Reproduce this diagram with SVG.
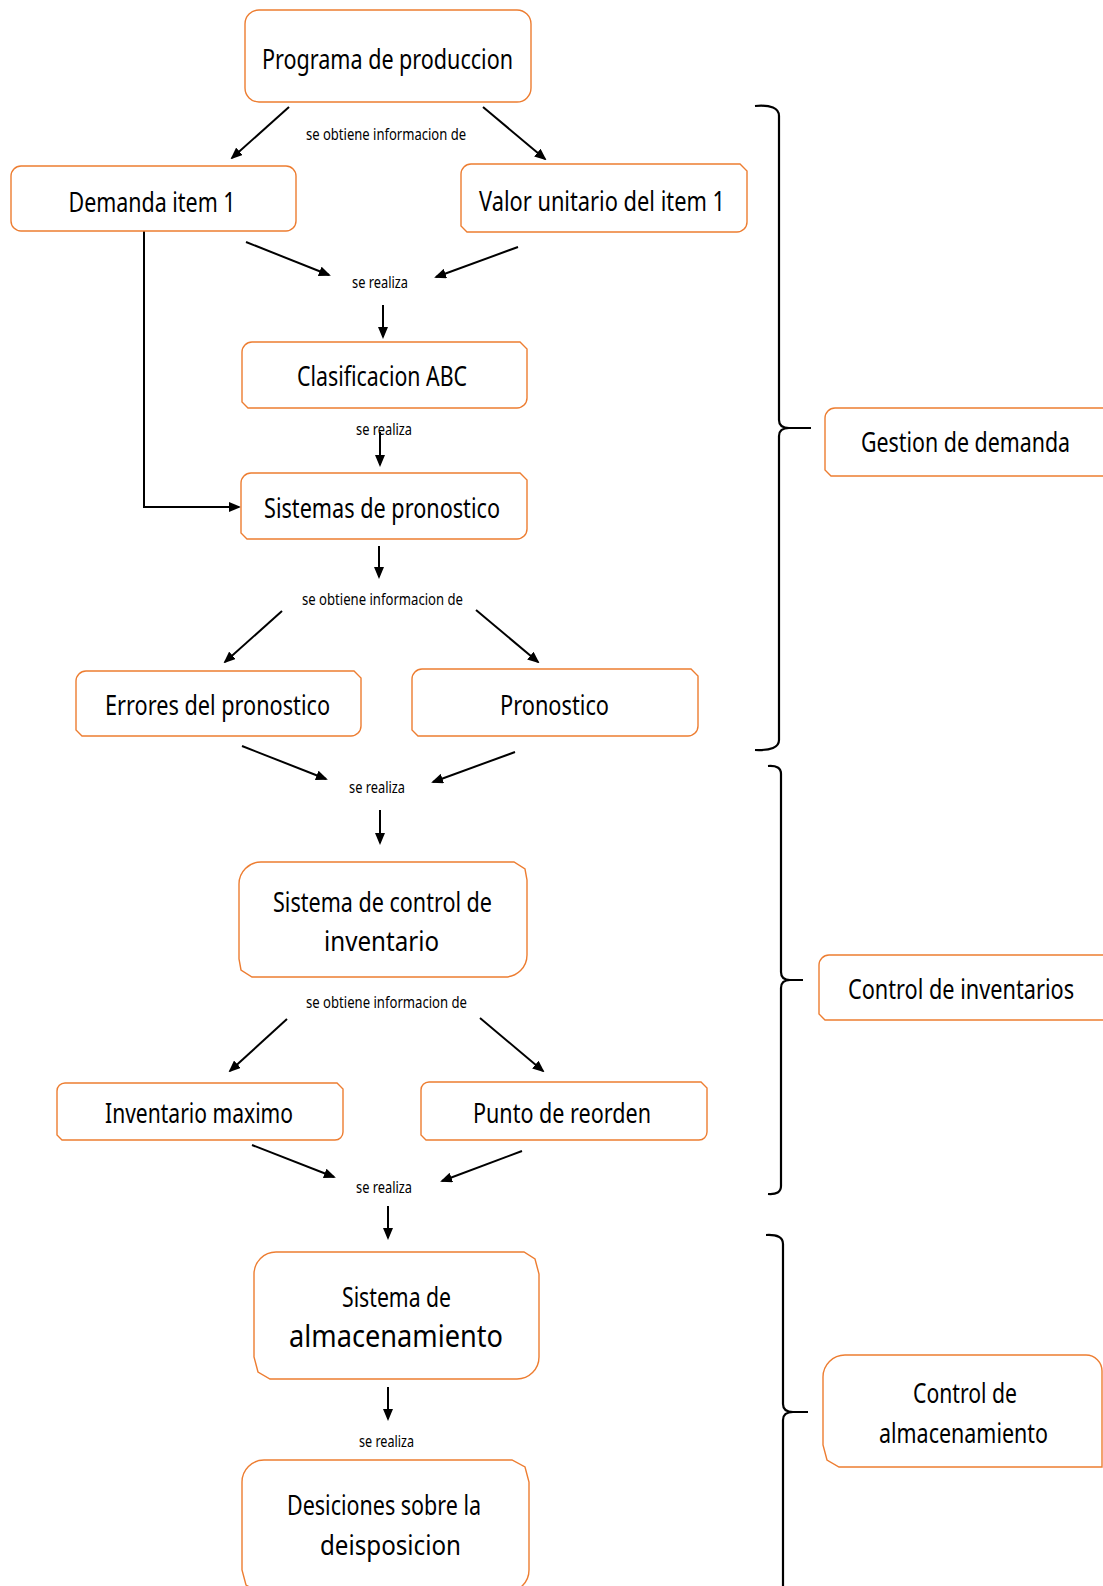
<svg xmlns="http://www.w3.org/2000/svg" width="1103" height="1586" viewBox="0 0 1103 1586">
  <style>
    .box { fill: #ffffff; stroke: #ED7D31; stroke-width: 1.4; }
    .t { font-family: "Noto Sans", "Open Sans", sans-serif; font-size: 28px; fill: #000; text-anchor: middle; }
    .t2 { font-family: "Noto Sans", "Open Sans", sans-serif; font-size: 31px; fill: #000; text-anchor: middle; }
    .lbl { font-family: "Noto Sans", "Open Sans", sans-serif; font-size: 17px; fill: #000; text-anchor: middle; }
    .arr { fill: none; stroke: #000; stroke-width: 2; marker-end: url(#ah); }
    .brace { fill: none; stroke: #000; stroke-width: 2.2; }
  </style>
  <defs>
    <marker id="ah" viewBox="0 0 12 10" refX="10" refY="5" markerWidth="12" markerHeight="10" markerUnits="userSpaceOnUse" orient="auto">
      <path d="M0,0 L12,5 L0,10 Z" fill="#000"/>
    </marker>
  </defs>
  <rect width="1103" height="1586" fill="#ffffff"/>

  <!-- connectors -->
  <g id="connectors">
    <line class="arr" x1="289" y1="107" x2="232" y2="158"/>
    <line class="arr" x1="483" y1="107" x2="545" y2="159"/>
    <line class="arr" x1="246" y1="242" x2="329" y2="275"/>
    <line class="arr" x1="518" y1="247" x2="436" y2="277"/>
    <line class="arr" x1="383" y1="305" x2="383" y2="337"/>
    <line class="arr" x1="380" y1="432" x2="380" y2="465"/>
    <path class="arr" d="M144,231 V507 H239"/>
    <line class="arr" x1="379" y1="546" x2="379" y2="577"/>
    <line class="arr" x1="282" y1="611" x2="225" y2="662"/>
    <line class="arr" x1="476" y1="610" x2="538" y2="662"/>
    <line class="arr" x1="242" y1="746" x2="326" y2="779"/>
    <line class="arr" x1="515" y1="752" x2="433" y2="782"/>
    <line class="arr" x1="380" y1="810" x2="380" y2="843"/>
    <line class="arr" x1="287" y1="1019" x2="230" y2="1071"/>
    <line class="arr" x1="480" y1="1018" x2="543" y2="1071"/>
    <line class="arr" x1="252" y1="1145" x2="334" y2="1177"/>
    <line class="arr" x1="522" y1="1151" x2="442" y2="1181"/>
    <line class="arr" x1="388" y1="1206" x2="388" y2="1238"/>
    <line class="arr" x1="388" y1="1387" x2="388" y2="1419"/>

    <!-- connector labels -->
    <text class="lbl" x="386" y="140" textLength="160" lengthAdjust="spacingAndGlyphs">se obtiene informacion de</text>
    <text class="lbl" x="380" y="288" textLength="56" lengthAdjust="spacingAndGlyphs">se realiza</text>
    <text class="lbl" x="384" y="435" textLength="56" lengthAdjust="spacingAndGlyphs">se realiza</text>
    <text class="lbl" x="382.5" y="605" textLength="161" lengthAdjust="spacingAndGlyphs">se obtiene informacion de</text>
    <text class="lbl" x="377" y="793" textLength="56" lengthAdjust="spacingAndGlyphs">se realiza</text>
    <text class="lbl" x="386.5" y="1008" textLength="161" lengthAdjust="spacingAndGlyphs">se obtiene informacion de</text>
    <text class="lbl" x="384" y="1193" textLength="56" lengthAdjust="spacingAndGlyphs">se realiza</text>
    <text class="lbl" x="386.5" y="1447" textLength="55" lengthAdjust="spacingAndGlyphs">se realiza</text>

    <!-- group braces -->
    <path class="brace" d="M755,106 Q779,104 779,116 L779,420 Q779,428 789,428 L811,428 M789,428 Q779,428 779,436 L779,740 Q779,751 755,750"/>
    <path class="brace" d="M768,766 Q781,765 781,774 L781,972 Q781,980 790,980 L803,980 M790,980 Q781,980 781,988 L781,1186 Q781,1195 768,1194"/>
    <path class="brace" d="M766,1235 Q783,1234 783,1244 L783,1404 Q783,1412 793,1412 L808,1412 M793,1412 Q783,1412 783,1420 L783,1600"/>
  </g>

  <!-- nodes -->
  <g id="programa">
    <rect class="box" x="245" y="10" width="286" height="92" rx="14"/>
    <text class="t" x="387.5" y="69" textLength="251" lengthAdjust="spacingAndGlyphs">Programa  de produccion</text>
  </g>
  <g id="demanda">
    <rect class="box" x="11" y="166" width="285" height="65" rx="10"/>
    <text class="t" x="152" y="212" textLength="167" lengthAdjust="spacingAndGlyphs">Demanda item 1</text>
  </g>
  <g id="valor">
    <path class="box" d="M471,164 H740 L747,171 V222 A10,10 0 0 1 737,232 H467 L461,226 V174 A10,10 0 0 1 471,164 Z"/>
    <text class="t" x="602" y="211" textLength="246" lengthAdjust="spacingAndGlyphs">Valor unitario del item 1</text>
  </g>
  <g id="clasificacion">
    <path class="box" d="M252,342 H520 L527,349 V398 A10,10 0 0 1 517,408 H248 L242,402 V352 A10,10 0 0 1 252,342 Z"/>
    <text class="t" x="382" y="386" textLength="170" lengthAdjust="spacingAndGlyphs">Clasificacion ABC</text>
  </g>
  <g id="sistemas">
    <path class="box" d="M251,473 H520 L527,480 V529 A10,10 0 0 1 517,539 H247 L241,533 V483 A10,10 0 0 1 251,473 Z"/>
    <text class="t" x="382" y="518" textLength="236" lengthAdjust="spacingAndGlyphs">Sistemas de pronostico</text>
  </g>
  <g id="errores">
    <path class="box" d="M86,671 H354 L361,678 V726 A10,10 0 0 1 351,736 H82 L76,730 V681 A10,10 0 0 1 86,671 Z"/>
    <text class="t" x="217.5" y="715" textLength="225" lengthAdjust="spacingAndGlyphs">Errores del pronostico</text>
  </g>
  <g id="pronostico">
    <path class="box" d="M422,669 H691 L698,676 V726 A10,10 0 0 1 688,736 H418 L412,730 V679 A10,10 0 0 1 422,669 Z"/>
    <text class="t" x="554.5" y="715" textLength="109" lengthAdjust="spacingAndGlyphs">Pronostico</text>
  </g>
  <g id="control-inventario">
    <path class="box" d="M261,862 H514 L525,869 L527,880 V955 A22,22 0 0 1 505,977 H252 L241,970 L239,959 V884 A22,22 0 0 1 261,862 Z"/>
    <text class="t" x="382.5" y="912" textLength="219" lengthAdjust="spacingAndGlyphs">Sistema de control de</text>
    <text class="t" x="381.5" y="951" textLength="115" lengthAdjust="spacingAndGlyphs">inventario</text>
  </g>
  <g id="inventario-maximo">
    <path class="box" d="M65,1083 H337 L343,1089 V1132 A8,8 0 0 1 335,1140 H62 L57,1135 V1091 A8,8 0 0 1 65,1083 Z"/>
    <text class="t" x="199" y="1123" textLength="188" lengthAdjust="spacingAndGlyphs">Inventario maximo</text>
  </g>
  <g id="punto-reorden">
    <path class="box" d="M429,1082 H701 L707,1088 V1132 A8,8 0 0 1 699,1140 H426 L421,1135 V1090 A8,8 0 0 1 429,1082 Z"/>
    <text class="t" x="562" y="1123" textLength="178" lengthAdjust="spacingAndGlyphs">Punto de reorden</text>
  </g>
  <g id="almacenamiento">
    <path class="box" d="M276,1252 H524 L535,1259 L539,1274 V1357 A22,22 0 0 1 517,1379 H270 L258,1372 L254,1357 V1274 A22,22 0 0 1 276,1252 Z"/>
    <text class="t" x="396.5" y="1307" textLength="109" lengthAdjust="spacingAndGlyphs">Sistema de</text>
    <text class="t2" x="396" y="1347" textLength="214" lengthAdjust="spacingAndGlyphs">almacenamiento</text>
  </g>
  <g id="desiciones">
    <path class="box" d="M264,1460 H512 L525,1467 L529,1482 V1570 A22,22 0 0 1 507,1592 H258 L246,1585 L242,1570 V1482 A22,22 0 0 1 264,1460 Z"/>
    <text class="t" x="384" y="1515" textLength="194" lengthAdjust="spacingAndGlyphs">Desiciones sobre la</text>
    <text class="t" x="390.5" y="1555" textLength="141" lengthAdjust="spacingAndGlyphs">deisposicion</text>
  </g>
  <g id="gestion-demanda">
    <path class="box" d="M835,408 H1110 V476 H831 L825,470 V418 A10,10 0 0 1 835,408 Z"/>
    <text class="t" transform="translate(965.5,452) scale(0.78,1)" x="0" y="0" textLength="268" lengthAdjust="spacingAndGlyphs">Gestion de demanda</text>
  </g>
  <g id="control-inventarios">
    <path class="box" d="M829,955 H1110 V1020 H825 L819,1014 V965 A10,10 0 0 1 829,955 Z"/>
    <text class="t" transform="translate(961,999) scale(0.78,1)" x="0" y="0" textLength="290" lengthAdjust="spacingAndGlyphs">Control de inventarios</text>
  </g>
  <g id="control-almacenamiento">
    <path class="box" d="M845,1355 H1086 A16,16 0 0 1 1102,1371 V1467 H839 L827,1460 L823,1445 V1377 A22,22 0 0 1 845,1355 Z"/>
    <text class="t" x="965" y="1403" textLength="104" lengthAdjust="spacingAndGlyphs">Control de</text>
    <text class="t" x="963.5" y="1443" textLength="169" lengthAdjust="spacingAndGlyphs">almacenamiento</text>
  </g>
</svg>
